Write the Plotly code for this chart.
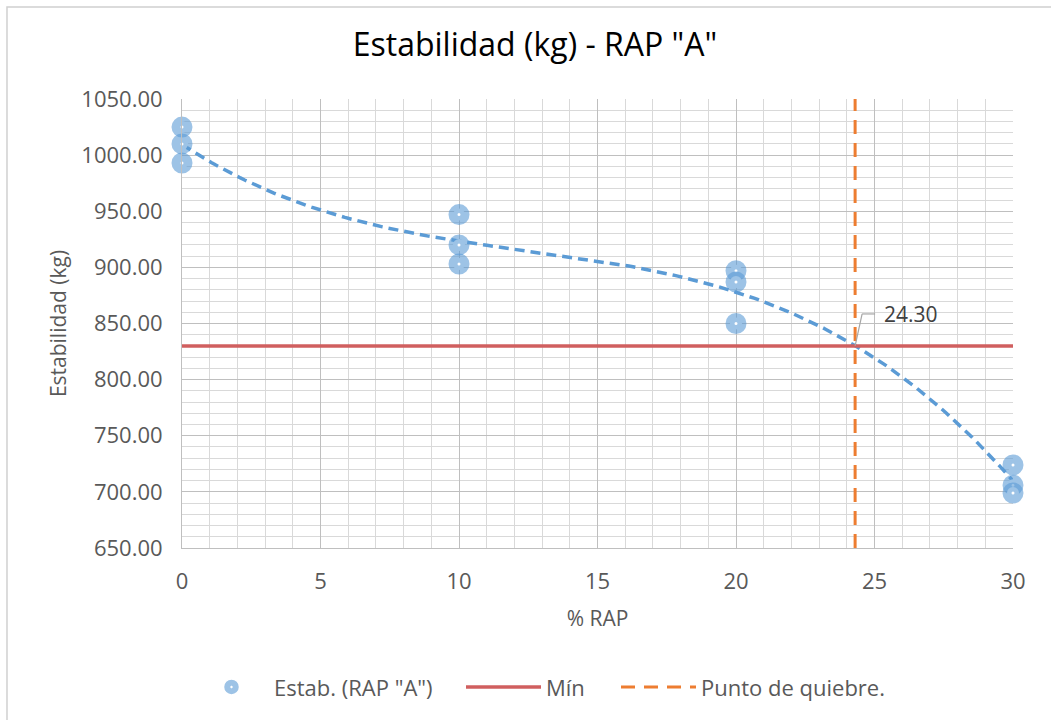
import numpy as np
import plotly.graph_objects as go

# ---- data ----
rap_pct = [0, 0, 0, 10, 10, 10, 20, 20, 20, 30, 30, 30]
estabilidad = [1025, 1010, 993, 947, 920, 903, 897, 887, 850, 724, 706, 699]
min_value = 830
break_x = 24.30
x_ticks = [0, 5, 10, 15, 20, 25, 30]
y_ticks = [650, 700, 750, 800, 850, 900, 950, 1000, 1050]

FONT = "Open Sans"
TXT = "#595959"
RING = "rgba(91,155,213,0.6)"

# cubic trendline from the data (Excel polynomial trendline, order 3)
coef = np.polyfit(rap_pct, estabilidad, 3)
xs = np.linspace(min(rap_pct), max(rap_pct), 200)
ys = np.polyval(coef, xs)

fig = go.Figure()

fig.add_trace(go.Scatter(
    x=xs, y=ys, mode="lines", showlegend=False, hoverinfo="skip",
    line=dict(color="#5B9BD5", width=3.5, dash="10px,6px"),
))
fig.add_trace(go.Scatter(
    x=rap_pct, y=estabilidad, mode="markers", name='Estab. (RAP "A")', cliponaxis=False,
    marker=dict(symbol="circle", size=12, color="white", line=dict(color=RING, width=9)),
    showlegend=False, legendgroup="estab",
))
# legend entry for the points (solid disc with white centre, as in the original legend)
fig.add_trace(go.Scatter(
    x=[None], y=[None], mode="markers", name='Estab. (RAP "A")', legendgroup="estab",
    marker=dict(symbol="circle-dot", size=16, color=RING, line=dict(color="white", width=1.5)),
    legend="legend",
))
fig.add_trace(go.Scatter(
    x=[x_ticks[0], x_ticks[-1]], y=[min_value, min_value], mode="lines", name="Mín",
    line=dict(color="#D05F5F", width=3.5), legend="legend2",
))
fig.add_trace(go.Scatter(
    x=[break_x, break_x], y=[y_ticks[0], y_ticks[-1]], mode="lines", name="Punto de quiebre.",
    line=dict(color="#ED7D31", width=3, dash="14px,9px"), legend="legend3",
))

# data label with bent leader line
fig.add_shape(type="line", xref="x", yref="y", xsizemode="pixel", ysizemode="pixel",
              xanchor=break_x, yanchor=min_value, x0=0, y0=0, x1=7, y1=32,
              line=dict(color="#A6A6A6", width=1.2))
fig.add_shape(type="line", xref="x", yref="y", xsizemode="pixel", ysizemode="pixel",
              xanchor=break_x, yanchor=min_value, x0=7, y0=32, x1=20, y1=32,
              line=dict(color="#A6A6A6", width=1.2))
fig.add_annotation(
    x=break_x, y=min_value, text=f"{break_x:.2f}", showarrow=False,
    xanchor="left", yanchor="middle", xshift=27, yshift=32,
    font=dict(family=FONT, size=21, color="#404040"),
)

# chart-area border
fig.add_shape(type="rect", xref="paper", yref="paper",
              x0=-0.2106, x1=1.1, y0=-0.45, y1=1.2049,
              line=dict(color="#D0D0D0", width=1.5), fillcolor="rgba(0,0,0,0)", layer="below")

leg_common = dict(orientation="h", yanchor="middle", y=-0.31, xanchor="left",
                  font=dict(family=FONT, size=22, color=TXT), itemwidth=75,
                  bgcolor="rgba(0,0,0,0)")

def px_to_paper(px):
    return (px - 182) / 831

fig.update_layout(
    width=1051, height=720,
    margin=dict(l=182, r=38, t=99, b=172),
    paper_bgcolor="white", plot_bgcolor="white",
    title=dict(text='Estabilidad (kg) - RAP "A"', xref="container", x=535 / 1051, xanchor="center",
               y=0.938, yanchor="middle",
               font=dict(family=FONT, size=32, color="#000000")),
    font=dict(family=FONT, color=TXT),
    legend=dict(**leg_common, x=px_to_paper(189)),
    legend2=dict(**leg_common, x=px_to_paper(461)),
    legend3=dict(**leg_common, x=px_to_paper(616)),
    xaxis=dict(
        range=[x_ticks[0], x_ticks[-1]], tickvals=x_ticks, showline=True, linecolor="#BFBFBF",
        gridcolor="#BFBFBF", gridwidth=1, zeroline=False, ticks="", ticklabelstandoff=14,
        tickfont=dict(family=FONT, size=22, color=TXT),
        minor=dict(dtick=1, showgrid=True, gridcolor="#D9D9D9", gridwidth=1),
        title=dict(text="% RAP", font=dict(family=FONT, size=21, color=TXT), standoff=16),
    ),
    yaxis=dict(
        range=[y_ticks[0], y_ticks[-1]], tickvals=y_ticks, tickformat=".2f", showline=True,
        linecolor="#BFBFBF", gridcolor="#BFBFBF", gridwidth=1, zeroline=False, ticks="",
        ticklabelstandoff=14,
        tickfont=dict(family=FONT, size=22, color=TXT),
        minor=dict(dtick=10, showgrid=True, gridcolor="#D9D9D9", gridwidth=1),
        title=dict(text="Estabilidad (kg)", font=dict(family=FONT, size=21, color=TXT), standoff=8),
    ),
)

fig.write_html("out.html")
